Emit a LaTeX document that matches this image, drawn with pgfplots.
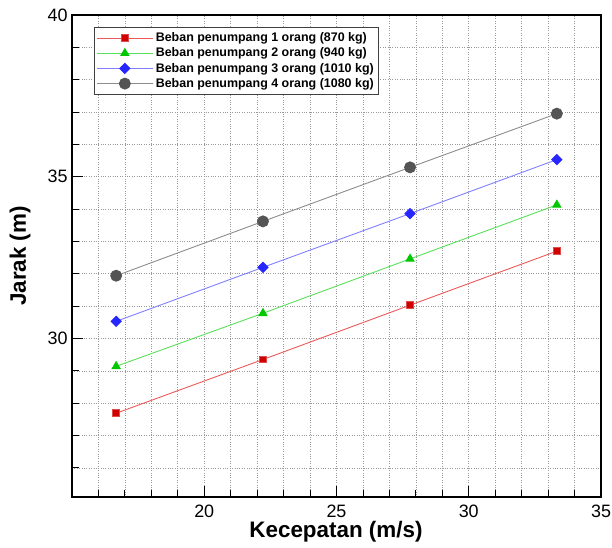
\documentclass[border=0pt]{standalone}
\usepackage{pgfplots}
\pgfplotsset{compat=1.18}
\usepackage{fontspec}
\setmainfont{Liberation Sans}
\definecolor{rmark}{rgb}{0.82,0,0}
\definecolor{rline}{rgb}{0.92,0.35,0.35}
\definecolor{gmark}{rgb}{0,0.78,0}
\definecolor{gline}{rgb}{0.35,0.88,0.35}
\definecolor{bmark}{rgb}{0.15,0.15,1}
\definecolor{bline}{rgb}{0.5,0.5,1}
\definecolor{kmark}{rgb}{0.33,0.33,0.33}
\definecolor{kline}{rgb}{0.55,0.55,0.55}
\begin{document}
\begin{tikzpicture}
\path[use as bounding box] (-72bp,-51bp) rectangle (540bp,497bp);
\begin{axis}[
  at={(0,0)}, anchor=south west,
  scale only axis, width=529bp, height=482bp,
  xmin=15, xmax=35, ymin=25.1, ymax=40,
  xtick={20,25,30,35}, ytick={30,35,40},
  minor xtick={16,17,18,19,21,22,23,24,26,27,28,29,31,32,33,34},
  minor ytick={26,27,28,29,31,32,33,34,36,37,38,39},
  grid=both,
  major grid style={dotted, gray!80, line width=0.6bp},
  minor grid style={dotted, gray!80, line width=0.6bp},
  axis line style={line width=1.6bp, black},
  tick pos=left, tick align=inside,
  major tick length=11bp, minor tick length=7bp,
  every tick/.style={black, line width=1.2bp},
  minor tick style={line width=0.8bp, black},
  /pgf/number format/assume math mode=true,
  tick label style={font=\fontsize{18}{20}\selectfont},
  xticklabel style={yshift=-4bp},
  yticklabel style={xshift=-1bp},
  xlabel={\textbf{Kecepatan (m/s)}},
  ylabel={\textbf{Jarak (m)}},
  label style={font=\fontsize{22.5}{25}\selectfont},
  xlabel style={at={(axis description cs:0.499,-0.073)}, anchor=center},
  ylabel style={at={(axis description cs:-0.098,0.5)}, anchor=center},
  legend style={at={(rel axis cs:0.0416,0.9755)}, anchor=north west,
    draw=black!75, line width=0.8bp, fill=white,
    font=\bfseries\fontsize{12.5}{13}\selectfont,
    inner xsep=2bp, inner ysep=4.5bp, row sep=2.7bp,
    nodes={inner sep=1bp}},
  legend cell align=left,
  legend image code/.code={\draw[#1, mark repeat=2, mark phase=2] plot coordinates {(0bp,0bp) (28bp,0bp) (56bp,0bp)};},
  legend style={nodes={inner xsep=2.5bp}},
]
\addplot[rline, line width=0.9bp, mark=square*, mark size=3.4bp, mark options={fill=rmark, draw=rmark!70!white, solid}]
 coordinates {(16.67,27.69) (22.22,29.35) (27.78,31.03) (33.33,32.70)};
\addlegendentry{Beban penumpang 1 orang (870 kg)}
\addplot[gline, line width=0.9bp, mark=triangle*, mark size=4.6bp, mark options={fill=gmark, draw=gmark, solid}]
 coordinates {(16.67,29.14) (22.22,30.78) (27.78,32.46) (33.33,34.13)};
\addlegendentry{Beban penumpang 2 orang (940 kg)}
\addplot[bline, line width=0.9bp, mark=square*, mark size=3.6bp, mark options={fill=bmark, draw=bmark, solid, rotate=45}]
 coordinates {(16.67,30.53) (22.22,32.20) (27.78,33.86) (33.33,35.53)};
\addlegendentry{Beban penumpang 3 orang (1010 kg)}
\addplot[kline, line width=0.9bp, mark=*, mark size=5.5bp, mark options={fill=kmark, draw=kmark, solid}]
 coordinates {(16.67,31.94) (22.22,33.62) (27.78,35.29) (33.33,36.95)};
\addlegendentry{Beban penumpang 4 orang (1080 kg)}
\end{axis}
\end{tikzpicture}
\end{document}
